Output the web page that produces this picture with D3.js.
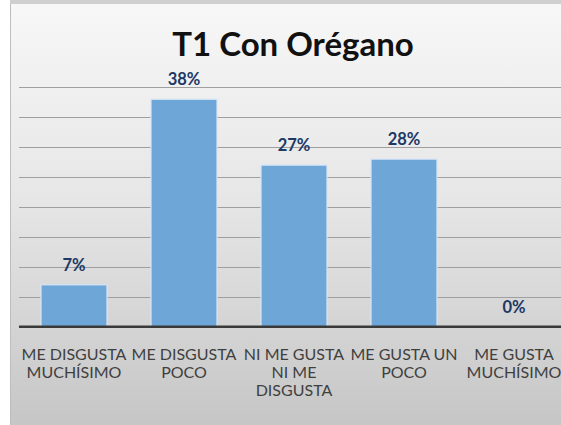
<!DOCTYPE html>
<html>
<head>
<meta charset="utf-8">
<script src="https://cdn.jsdelivr.net/npm/d3@7"></script>
<style>
  html, body { margin: 0; padding: 0; background: #fff; }
  svg { display: block; }
</style>
</head>
<body>
<svg width="561" height="425"></svg>
<script>
// data
var categories = [
  ["ME DISGUSTA", "MUCHÍSIMO"],
  ["ME DISGUSTA", "POCO"],
  ["NI ME GUSTA", "NI ME", "DISGUSTA"],
  ["ME GUSTA UN", "POCO"],
  ["ME GUSTA", "MUCHÍSIMO"]
];
var values = [7, 38, 27, 28, 0];
var gridTicks = [5, 10, 15, 20, 25, 30, 35, 40];
var title = "T1 Con Orégano";

var svg = d3.select("svg"),
    W = +svg.attr("width"),
    H = +svg.attr("height");

// background gradient of the chart area
var defs = svg.append("defs");
var grad = defs.append("linearGradient")
  .attr("id", "bg").attr("x1", 0).attr("y1", 0).attr("x2", 0).attr("y2", 1);
grad.append("stop").attr("offset", "0%").attr("stop-color", "#f7f7f7");
grad.append("stop").attr("offset", "45%").attr("stop-color", "#e7e7e7");
grad.append("stop").attr("offset", "100%").attr("stop-color", "#c6c6c6");

svg.append("rect").attr("x", 10).attr("y", 0).attr("width", W - 10).attr("height", 4)
  .attr("fill", "#cfcfcf");
svg.append("rect").attr("x", 10).attr("y", 4).attr("width", W - 10).attr("height", H - 4)
  .attr("fill", "url(#bg)");
svg.append("line").attr("x1", 10.5).attr("x2", 10.5).attr("y1", 4).attr("y2", H)
  .attr("stroke", "#bdbdbd");

// scales
var x = d3.scaleBand()
  .domain(d3.range(categories.length))
  .range([19, 569])
  .paddingInner(0.4)
  .paddingOuter(0.2);

var y = d3.scaleLinear().domain([0, 40]).range([326.7, 87.3]);

// gridlines
svg.append("g")
  .selectAll("line")
  .data(gridTicks)
  .enter()
  .append("line")
  .attr("x1", 19)
  .attr("x2", W)
  .attr("y1", function (d) { return Math.round(y(d)) + 0.5; })
  .attr("y2", function (d) { return Math.round(y(d)) + 0.5; })
  .attr("stroke", "#9f9f9f")
  .attr("stroke-width", 1.2);

// bars (the 0% one has no height, so it is skipped)
svg.append("g")
  .selectAll("rect")
  .data(values.map(function (v, i) { return { v: v, i: i }; }).filter(function (d) { return d.v > 0; }))
  .enter()
  .append("rect")
  .attr("x", function (d) { return x(d.i); })
  .attr("y", function (d) { return y(d.v); })
  .attr("width", x.bandwidth())
  .attr("height", function (d) { return y(0) - y(d.v); })
  .attr("fill", "#6fa6d8")
  .attr("stroke", "#d7e7f5")
  .attr("stroke-width", 1.2);

// axis line
svg.append("line")
  .attr("x1", 19).attr("x2", W)
  .attr("y1", y(0)).attr("y2", y(0))
  .attr("stroke", "#3a3a3a")
  .attr("stroke-width", 2.5);

// value labels
svg.append("g")
  .selectAll("text")
  .data(values)
  .enter()
  .append("text")
  .attr("x", function (d, i) { return x(i) + x.bandwidth() / 2; })
  .attr("y", function (d) { return y(d) - 14; })
  .attr("text-anchor", "middle")
  .style("font-family", "Lato, 'Open Sans', sans-serif")
  .style("font-weight", "bold")
  .style("font-size", "16.5px")
  .style("fill", "#203864")
  .text(function (d) { return d + "%"; });

// category labels
var cat = svg.append("g")
  .selectAll("text")
  .data(categories)
  .enter()
  .append("text")
  .attr("text-anchor", "middle")
  .style("font-family", "Lato, 'Open Sans', sans-serif")
  .style("font-size", "16px")
  .style("fill", "#404040");

cat.each(function (lines, i) {
  var t = d3.select(this);
  lines.forEach(function (s, j) {
    t.append("tspan")
      .attr("x", x(i) + x.bandwidth() / 2)
      .attr("y", 360 + j * 18)
      .text(s);
  });
});

// title
svg.append("text")
  .attr("x", 293)
  .attr("y", 56)
  .attr("text-anchor", "middle")
  .style("font-family", "Lato, 'Open Sans', sans-serif")
  .style("font-weight", "bold")
  .style("font-size", "33px")
  .style("fill", "#111")
  .text(title);
</script>
</body>
</html>
